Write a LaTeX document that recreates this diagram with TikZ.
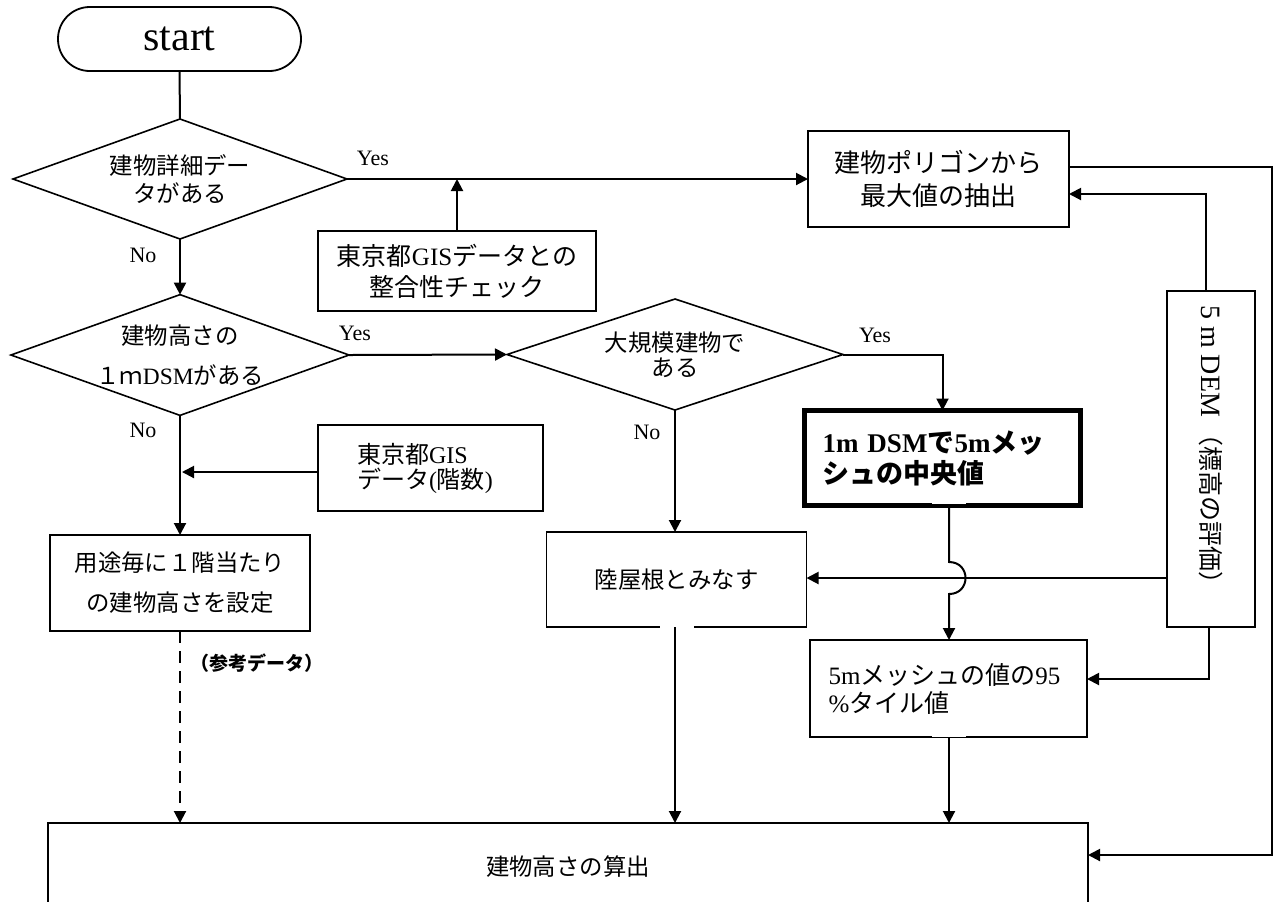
\documentclass[tikz,border=0pt]{standalone}
\usepackage{fontspec}
\setmainfont{Liberation Serif}
\newfontfamily\jpf{Noto Sans CJK JP}
\usetikzlibrary{arrows.meta,shapes.geometric}
\newcommand\JP[1]{{\jpf #1}}
\begin{document}
\begin{tikzpicture}[x=0.5pt,y=-0.5pt,
  every node/.style={inner sep=0pt, outer sep=0pt},
  box/.style={draw, line width=0.9pt, rectangle, align=center},
  dec/.style={draw, line width=0.8pt, diamond, aspect=2.8, align=center},
  arr/.style={line width=1pt, -{Triangle[length=6pt,width=6pt]}},
  ln/.style={line width=1pt},
  lbl/.style={font=\fontsize{11pt}{12pt}\selectfont},
  txt/.style={font=\fontsize{11.7pt}{14pt}\selectfont},
  txtb/.style={font=\fontsize{13pt}{16.5pt}\selectfont}]
\clip (0,0) rectangle (1278,901);
\fill[white] (0,0) rectangle (1278,901);

% nodes
\node[box, minimum width=121.5pt, minimum height=32pt, rounded corners=15.9pt,
      font=\fontsize{21pt}{24pt}\selectfont] (start) at (179.5,39) {start};
\node[dec, minimum width=167pt, minimum height=60pt, txt] (d1) at (180,179)
  {\JP{建物詳細デー}\\\JP{タがある}};
\node[dec, minimum width=160pt, minimum height=60pt, txt] (d2) at (180,355)
  {\JP{建物高さの}\\[6pt]\JP{１ｍ}DSM\JP{がある}};
\node[dec, minimum width=168pt, minimum height=55.5pt, txt] (d3) at (675,354.5)
  {\JP{大規模建物で}\\[-1.5pt]\JP{ある}};
\node[box, minimum width=130.5pt, minimum height=48pt, txtb] (poly) at (938.5,179)
  {\JP{建物ポリゴンから}\\\JP{最大値の抽出}};
\node[box, minimum width=139pt, minimum height=40pt,
      font=\fontsize{12.5pt}{15.5pt}\selectfont] (gischk) at (457,271)
  {\JP{東京都}GIS\JP{データとの}\\\JP{整合性チェック}};
\node[box, minimum width=112.5pt, minimum height=43pt, text width=73.5pt, align=left,
      font=\fontsize{12pt}{12.5pt}\selectfont] (gisfl) at (430.5,468)
  {\JP{東京都}GIS\\\JP{データ}(\JP{階数})};
\node[box, minimum width=130pt, minimum height=48pt,
      font=\fontsize{11.7pt}{20pt}\selectfont] (yoto) at (180,583)
  {\JP{用途毎に１階当たり}\\\JP{の建物高さを設定}};
\node[box, minimum width=130pt, minimum height=47.5pt, txt] (riku) at (676.5,579.5)
  {\JP{陸屋根とみなす}};
\node[box, line width=2.6pt, minimum width=138pt, minimum height=47.5pt,
      text width=120pt, align=left,
      font=\fontsize{13.5pt}{15.5pt}\selectfont\bfseries] (thick) at (942.5,458)
  {1m~DSM\JP{で}5m\JP{メッ}\\\JP{シュの中央値}};
\node[box, minimum width=138.5pt, minimum height=48.5pt, text width=120pt, align=left,
      font=\fontsize{12.5pt}{14pt}\selectfont] (m5) at (948.5,688.5)
  {5m\JP{メッシュの値の}95\\\%\JP{タイル値}};
\node[box, minimum width=44pt, minimum height=168pt,
      label={[rotate=-90, xshift=-4pt]center:{\fontsize{14pt}{16pt}\selectfont 5 m DEM\,{\jpf\fontsize{12.5pt}{14pt}\selectfont（標高の評価）}}}]
  (dem) at (1211,459) {};
\node[box, minimum width=520pt, minimum height=44pt, txt] (calc) at (568,867)
  {\JP{建物高さの算出}};

% small white notches on box bottoms
\fill[white] (660,625.5) rectangle (694,627.5);
\fill[white] (932,500.5) rectangle (966,503.5);
\fill[white] (932,735) rectangle (966,736.7);

% labels
\node[lbl] (y1) at (373,158) {Yes};
\node[lbl] (n1) at (143,255) {No};
\node[lbl] (y2) at (355,333) {Yes};
\node[lbl] (n2) at (143,430) {No};
\node[lbl] (y3) at (875,335) {Yes};
\node[lbl] (n3) at (647,432) {No};
\node[font=\jpf\bfseries\fontsize{9.5pt}{11pt}\selectfont] (ref) at (257,663) {（参考データ）};

% connectors
\coordinate (j1) at (457,179);
\coordinate (j2) at (182,472);
\coordinate (h1) at (949,562);
\coordinate (h2) at (949,594);
\coordinate (k) at (0,578);
\coordinate (u) at (1206,194);
\coordinate (v) at (1209,679);
\coordinate (r1) at (1272,167);
\coordinate (r2) at (1272,855);

\draw[ln] (start.south) -- (d1.north);
\draw[arr] (d1.east) -- (poly.west);
\draw[arr] (gischk.north) -- (j1);
\draw[arr] (d1.south) -- (d2.north);
\draw[arr] (d2.east) -- (d3.west);
\draw[arr] (d3.east) -| (thick.north);
\draw[arr] (d3.south) -- (d3.south |- riku.north);
\draw[arr] (d2.south) -- (yoto.north);
\draw[arr] (gisfl.west |- j2) -- (j2);
\draw[arr, dash pattern=on 6pt off 4pt] (yoto.south) -- (yoto.south |- calc.north);
\draw[arr] (d3.south |- riku.south) -- (d3.south |- calc.north);
\draw[arr] (thick.south -| h1) -- (h1) .. controls +(22,0) and +(22,0) .. (h2) -- (h2 |- m5.north);
\draw[arr] (m5.south -| h1) -- (h1 |- calc.north);
\draw[arr] (dem.west |- k) -- (riku.east |- k);
\draw[arr] (dem.north -| u) -- (u) -- (poly.east |- u);
\draw[arr] (dem.south -| v) -- (v) -- (m5.east |- v);
\draw[arr] (poly.east |- r1) -- (r1) -- (r2) -- (calc.east |- r2);
\end{tikzpicture}
\end{document}
